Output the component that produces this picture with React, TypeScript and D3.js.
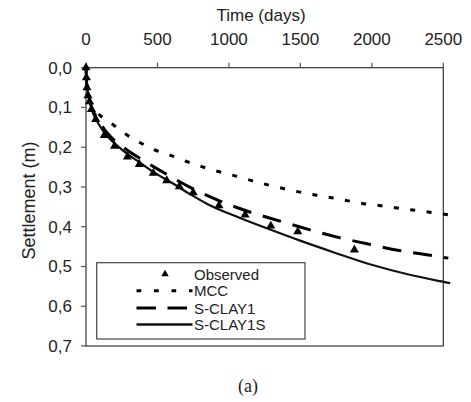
import React from "react";
import * as d3 from "d3";

const xTicks = [0, 500, 1000, 1500, 2000, 2500];
const yTicks = [0, 0.1, 0.2, 0.3, 0.4, 0.5, 0.6, 0.7];

const obsDays = [0, 3, 7, 14, 25, 38, 68, 128, 200, 290, 373, 471, 565, 653, 750, 930, 1113, 1293, 1482, 1878];
const obsSettle = [0.0, 0.025, 0.05, 0.07, 0.085, 0.105, 0.13, 0.17, 0.197, 0.224, 0.243, 0.265, 0.284, 0.299, 0.314, 0.347, 0.37, 0.398, 0.412, 0.458];

const mccDays = [0, 5, 15, 40, 84, 177, 278, 376, 483, 588, 705, 810, 926, 1043, 1160, 1265, 1381, 1498, 1615, 1731, 1836, 1965, 2081, 2198, 2314, 2431, 2535];
const mccSettle = [0, 0.04, 0.065, 0.095, 0.115, 0.14, 0.167, 0.188, 0.207, 0.22, 0.236, 0.249, 0.261, 0.272, 0.284, 0.294, 0.304, 0.313, 0.321, 0.328, 0.335, 0.343, 0.348, 0.354, 0.359, 0.365, 0.37];

const sc1Days = [0, 5, 15, 40, 84, 150, 250, 360, 535, 750, 914, 1130, 1340, 1568, 1743, 1967, 2180, 2397, 2535];
const sc1Settle = [0, 0.04, 0.065, 0.1, 0.13, 0.165, 0.197, 0.224, 0.262, 0.305, 0.332, 0.361, 0.384, 0.408, 0.425, 0.443, 0.459, 0.471, 0.479];

const sc1sDays = [0, 5, 15, 40, 70, 122, 247, 355, 470, 588, 728, 845, 1078, 1265, 1498, 1731, 2011, 2244, 2478, 2548];
const sc1sSettle = [0, 0.04, 0.065, 0.105, 0.13, 0.16, 0.205, 0.233, 0.262, 0.287, 0.318, 0.342, 0.378, 0.404, 0.435, 0.464, 0.497, 0.519, 0.537, 0.542];

const legendLabels = ["Observed", "MCC", "S-CLAY1", "S-CLAY1S"];

const W = 471;
const H = 402;
const left = 86;
const right = 443.3;
const top = 67.7;
const bottom = 346;
const font = "'Liberation Sans', Arial, Helvetica, sans-serif";

export default function App() {
  const x = d3.scaleLinear().domain([0, 2500]).range([left, right]);
  const y = d3.scaleLinear().domain([0, 0.7]).range([top, bottom]);
  const line = (ds: number[], ss: number[]) =>
    d3
      .line<number>()
      .x((_, i) => x(ds[i]))
      .y((v) => y(v))
      .curve(d3.curveMonotoneX)(ss) || "";

  const tri = d3.symbol().type(d3.symbolTriangle).size(36)() || "";
  const triSmall = d3.symbol().type(d3.symbolTriangle).size(24)() || "";

  const legX0 = 136.5;
  const legX1 = 192.5;
  const legY = [274, 290.7, 308, 324.5];

  return (
    <svg width={W} height={H} style={{ position: "absolute", left: 0, top: 0, background: "#fff" }}>
      <rect x={0} y={0} width={W} height={H} fill="#fff" />
      {/* frame */}
      <rect x={left} y={top} width={right - left} height={bottom - top} fill="none" stroke="#333" strokeWidth={1.2} />
      {/* x ticks (top) */}
      {xTicks.map((t) => (
        <g key={"xt" + t}>
          <line x1={x(t)} x2={x(t)} y1={top} y2={top - 5} stroke="#555" strokeWidth={1.2} />
          <text x={x(t)} y={45} textAnchor="middle" fontFamily={font} fontSize={17} fill="#222">
            {t}
          </text>
        </g>
      ))}
      {/* y ticks */}
      {yTicks.map((t) => (
        <g key={"yt" + t}>
          <line x1={left - 5} x2={left} y1={y(t)} y2={y(t)} stroke="#555" strokeWidth={1.2} />
          <text x={72} y={y(t) + 6} textAnchor="end" fontFamily={font} fontSize={17} fill="#222">
            {d3.format(".1f")(t).replace(".", ",")}
          </text>
        </g>
      ))}
      <text x={261} y={21} textAnchor="middle" fontFamily={font} fontSize={17} fill="#222">
        Time (days)
      </text>
      <text
        transform={`translate(34.5,${200.5}) rotate(-90)`}
        textAnchor="middle"
        fontFamily={font}
        fontSize={18}
        fill="#222"
      >
        Settlement (m)
      </text>

      {/* curves */}
      <path d={line(mccDays, mccSettle)} fill="none" stroke="#000" strokeWidth={3} strokeDasharray="5,11.5" />
      <path d={line(sc1Days, sc1Settle)} fill="none" stroke="#000" strokeWidth={3} strokeDasharray="19,12" />
      <path d={line(sc1sDays, sc1sSettle)} fill="none" stroke="#111" strokeWidth={2.2} />
      {obsDays.map((d, i) => (
        <path key={"o" + i} d={tri} transform={`translate(${x(d)},${y(obsSettle[i])})`} fill="#000" />
      ))}

      {/* legend */}
      <rect x={96.7} y={262.7} width={208.3} height={76.3} fill="#fff" stroke="#444" strokeWidth={1.2} />
      <path d={triSmall} transform={`translate(${165},${legY[0]})`} fill="#000" />
      <line x1={legX0} x2={legX1} y1={legY[1]} y2={legY[1]} stroke="#000" strokeWidth={3} strokeDasharray="4.7,12.8" />
      <line x1={legX0} x2={legX1 - 4} y1={legY[2]} y2={legY[2]} stroke="#000" strokeWidth={3} strokeDasharray="19.5,11.5" />
      <line x1={legX0} x2={legX1} y1={legY[3]} y2={legY[3]} stroke="#111" strokeWidth={2.3} />
      {legendLabels.map((l, i) => (
        <text key={l} x={194} y={legY[i] + 5.5} fontFamily={font} fontSize={15} fill="#222">
          {l}
        </text>
      ))}

      <text x={248} y={392} textAnchor="middle" fontFamily="'Liberation Serif', 'Times New Roman', serif" fontSize={18} fill="#222">
        (a)
      </text>
    </svg>
  );
}
